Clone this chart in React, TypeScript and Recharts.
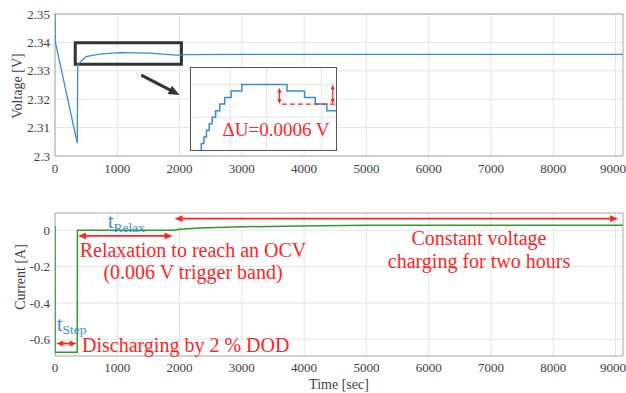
import React from 'react';
import {
  LineChart, Line, XAxis, YAxis, CartesianGrid, ReferenceArea, ReferenceLine,
} from 'recharts';

const FONT = '"Liberation Serif", "DejaVu Serif", "Times New Roman", Times, serif';
const BLUE = '#3a8bd2';
const GREEN = '#2f9a2f';
const RED = '#ff2424';
const GRID = '#e4e4e4';
const FRAME = '#a8a8a8';
const TEXT = '#404040';

const TIME_MAX = 9120;
const TIME_TICKS = [0, 1000, 2000, 3000, 4000, 5000, 6000, 7000, 8000, 9000];
const VOLT_TICKS = [2.3, 2.31, 2.32, 2.33, 2.34, 2.35];
const CURRENT_TICKS = [-0.6, -0.4, -0.2, 0];

// terminal voltage over the test
const voltTime = [0, 5, 180, 357, 365, 383, 500, 715, 1036, 1518, 1947, 2107, 3000, 4000, 5000, 6000, 7000, 8000, 9120];
const voltValues = [2.35, 2.3402, 2.3225, 2.3045, 2.332, 2.3326, 2.335, 2.3359, 2.3364, 2.3362, 2.3355, 2.3357, 2.3358, 2.3358, 2.3358, 2.3358, 2.3358, 2.3358, 2.3358];

// cell current
const currTime = [0, 1, 357, 360, 1905, 2003, 2325, 2855, 3930, 5000, 6000, 7000, 8000, 9120];
const currValues = [0.024, -0.672, -0.672, 0, 0, 0.005, 0.013, 0.018, 0.024, 0.027, 0.0275, 0.0275, 0.0272, 0.0275];

// zoomed, quantised voltage during relaxation (stepAfter)
const zoomTime = [380, 483, 512, 540, 570, 602, 640, 685, 740, 810, 928, 1423, 1616, 1733, 1861, 1961];
const zoomValues = [2.333, 2.3344, 2.3346, 2.3348, 2.335, 2.3352, 2.3354, 2.3356, 2.3358, 2.336, 2.3362, 2.336, 2.3358, 2.3356, 2.3354, 2.3354];
const ZOOM_T = [370, 1961];
const ZOOM_V = [2.3342, 2.3367];
const ZOOM_T_TICKS = [600, 800, 1000, 1200, 1400, 1600, 1800];
const ZOOM_V_TICKS = [2.3347, 2.3352, 2.3357, 2.3362];

const voltData = voltTime.map((t, i) => ({ t, v: voltValues[i] }));
const currData = currTime.map((t, i) => ({ t, i: currValues[i] }));
const zoomData = zoomTime.map((t, i) => ({ t, v: zoomValues[i] }));

// line with arrowheads, drawn from the reference line's endpoints
const arrowShape = (color: string, width: number, head: number, both: boolean) => (p: any) => {
  const { x1, y1, x2, y2 } = p;
  const dx = x2 - x1;
  const dy = y2 - y1;
  const len = Math.hypot(dx, dy) || 1;
  const ux = dx / len;
  const uy = dy / len;
  const hw = head * 0.42;
  const tri = (tx: number, ty: number, s: number) => {
    const bx = tx - s * ux * head;
    const by = ty - s * uy * head;
    return `${tx},${ty} ${bx - uy * hw},${by + ux * hw} ${bx + uy * hw},${by - ux * hw}`;
  };
  const sx = both ? x1 + ux * head * 0.8 : x1;
  const sy = both ? y1 + uy * head * 0.8 : y1;
  return (
    <g>
      <line x1={sx} y1={sy} x2={x2 - ux * head * 0.8} y2={y2 - uy * head * 0.8} stroke={color} strokeWidth={width} />
      <polygon points={tri(x2, y2, 1)} fill={color} />
      {both && <polygon points={tri(x1, y1, -1)} fill={color} />}
    </g>
  );
};

const tick = { fontSize: 13, fill: TEXT, fontFamily: FONT };

const abs = (left: number, top: number, extra: React.CSSProperties = {}): React.CSSProperties => ({
  position: 'absolute', left, top, whiteSpace: 'nowrap', fontFamily: FONT, lineHeight: 1, ...extra,
});

export default function App() {
  return (
    <div style={{ position: 'absolute', left: 0, top: 0, width: 626, height: 393, background: '#fff', overflow: 'hidden', fontFamily: FONT }}>
      {/* voltage */}
      <div style={{ position: 'absolute', left: 0, top: 0 }}>
        <LineChart width={626} height={190} data={voltData} margin={{ top: 14, right: 3, bottom: 4, left: 0 }}>
          <CartesianGrid stroke={GRID} horizontalValues={VOLT_TICKS} verticalValues={TIME_TICKS} />
          <XAxis dataKey="t" type="number" domain={[0, TIME_MAX]} ticks={TIME_TICKS} allowDataOverflow
            height={30} tickSize={0} tickMargin={8} axisLine={false} tick={tick} />
          <YAxis type="number" domain={[2.3, 2.35]} ticks={VOLT_TICKS} allowDataOverflow width={55}
            tickSize={0} tickMargin={5} axisLine={false} tick={tick} tickFormatter={(v: number) => String(+v.toFixed(2))} />
          <ReferenceArea x1={0} x2={TIME_MAX} y1={2.3} y2={2.35} fill="none" stroke={FRAME} strokeWidth={1} />
          <Line dataKey="v" type="linear" stroke={BLUE} strokeWidth={1.3} dot={false} isAnimationActive={false} />
          <ReferenceArea x1={325} x2={2030} y1={2.3323} y2={2.3399} fill="none" stroke="#333" strokeWidth={3} ifOverflow="visible" />
          <ReferenceLine segment={[{ x: 1385, y: 2.3285 }, { x: 2000, y: 2.3215 }]} ifOverflow="visible"
            shape={arrowShape('#333', 3, 11, false)} />
        </LineChart>
      </div>

      {/* current */}
      <div style={{ position: 'absolute', left: 0, top: 190 }}>
        <LineChart width={626} height={203} data={currData} margin={{ top: 23, right: 3, bottom: 7, left: 0 }}>
          <CartesianGrid stroke={GRID} horizontalValues={CURRENT_TICKS} verticalValues={TIME_TICKS} />
          <XAxis dataKey="t" type="number" domain={[0, TIME_MAX]} ticks={TIME_TICKS} allowDataOverflow
            height={30} tickSize={0} tickMargin={7} axisLine={false} tick={tick} />
          <YAxis type="number" domain={[-0.692, 0.095]} ticks={CURRENT_TICKS} allowDataOverflow width={55}
            tickSize={0} tickMargin={5} axisLine={false} tick={tick} />
          <ReferenceArea x1={0} x2={TIME_MAX} y1={-0.692} y2={0.095} fill="none" stroke={FRAME} strokeWidth={1} />
          <Line dataKey="i" type="linear" stroke={GREEN} strokeWidth={1.5} dot={false} isAnimationActive={false} />
          <ReferenceLine segment={[{ x: 20, y: -0.6235 }, { x: 345, y: -0.6235 }]} ifOverflow="visible"
            shape={arrowShape(RED, 1.8, 7, true)} />
          <ReferenceLine segment={[{ x: 370, y: -0.031 }, { x: 1888, y: -0.031 }]} ifOverflow="visible"
            shape={arrowShape(RED, 1.8, 8, true)} />
          <ReferenceLine segment={[{ x: 1920, y: 0.064 }, { x: 9041, y: 0.064 }]} ifOverflow="visible"
            shape={arrowShape(RED, 1.8, 8, true)} />
        </LineChart>
      </div>

      {/* zoom of the relaxation */}
      <div style={{ position: 'absolute', left: 190, top: 67, width: 147, height: 84, boxSizing: 'border-box', border: '1px solid #555', background: '#fff' }}>
        <LineChart width={145} height={82} data={zoomData} margin={{ top: 0, right: 0, bottom: 0, left: 0 }}>
          <CartesianGrid stroke={GRID} horizontalValues={ZOOM_V_TICKS} verticalValues={ZOOM_T_TICKS} />
          <XAxis dataKey="t" type="number" domain={ZOOM_T} ticks={ZOOM_T_TICKS} allowDataOverflow hide />
          <YAxis type="number" domain={ZOOM_V} ticks={ZOOM_V_TICKS} allowDataOverflow hide />
          <Line dataKey="v" type="stepAfter" stroke={BLUE} strokeWidth={1.5} dot={false} isAnimationActive={false} />
          <ReferenceLine segment={[{ x: 1367, y: 2.3356 }, { x: 1961, y: 2.3356 }]} stroke={RED} strokeWidth={1.3} strokeDasharray="5 3" />
          <ReferenceLine segment={[{ x: 1340, y: 2.3361 }, { x: 1340, y: 2.3356 }]} ifOverflow="visible"
            shape={arrowShape(RED, 1.2, 5, true)} />
          <ReferenceLine segment={[{ x: 1925, y: 2.3362 }, { x: 1925, y: 2.3356 }]} ifOverflow="visible"
            shape={arrowShape(RED, 1.2, 5, true)} />
        </LineChart>
        <div style={abs(85, 61, { transform: 'translate(-50%, -50%)', color: RED, fontSize: 19 })}>ΔU=0.0006 V</div>
      </div>

      {/* axis titles */}
      <div style={abs(18, 86, { transform: 'translate(-50%, -50%) rotate(-90deg)', color: TEXT, fontSize: 14 })}>Voltage [V]</div>
      <div style={abs(21, 277, { transform: 'translate(-50%, -50%) rotate(-90deg)', color: TEXT, fontSize: 14 })}>Current [A]</div>
      <div style={abs(339, 385, { transform: 'translate(-50%, -50%)', color: TEXT, fontSize: 14 })}>Time [sec]</div>

      {/* annotations */}
      <div style={abs(108, 211, { color: BLUE, fontSize: 20 })}>
        t<span style={{ fontSize: 13.5, position: 'relative', top: 4 }}>Relax</span>
      </div>
      <div style={abs(57, 314, { color: BLUE, fontSize: 20 })}>
        t<span style={{ fontSize: 13.5, position: 'relative', top: 3 }}>Step</span>
      </div>
      <div style={abs(193, 250, { transform: 'translate(-50%, -50%)', color: RED, fontSize: 20 })}>Relaxation to reach an OCV</div>
      <div style={abs(193, 272, { transform: 'translate(-50%, -50%)', color: RED, fontSize: 20 })}>(0.006 V trigger band)</div>
      <div style={abs(479, 238, { transform: 'translate(-50%, -50%)', color: RED, fontSize: 20 })}>Constant voltage</div>
      <div style={abs(479, 261, { transform: 'translate(-50%, -50%)', color: RED, fontSize: 20 })}>charging for two hours</div>
      <div style={abs(82, 345, { transform: 'translateY(-50%)', color: RED, fontSize: 20 })}>Discharging by 2 % DOD</div>
    </div>
  );
}
